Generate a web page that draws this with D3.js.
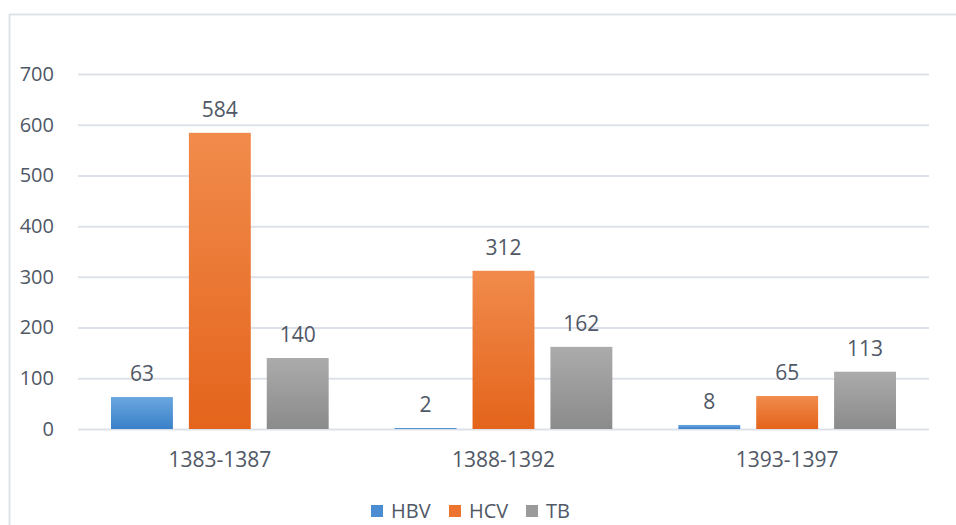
<!DOCTYPE html>
<html>
<head>
<meta charset="utf-8">
<script src="https://cdn.jsdelivr.net/npm/d3@7"></script>
<style>
  body { margin: 0; background: #fff; }
  svg text { font-family: "Open Sans", "Liberation Sans", sans-serif; fill: #505866; }
</style>
</head>
<body>
<svg id="chart" width="956" height="525"></svg>
<script>
const periods = ["1383-1387", "1388-1392", "1393-1397"];
const seriesNames = ["HBV", "HCV", "TB"];
const hbv = [63, 2, 8];
const hcv = [584, 312, 65];
const tb = [140, 162, 113];
const yTicks = [0, 100, 200, 300, 400, 500, 600, 700];

const values = [hbv, hcv, tb];
const rows = periods.map((p, i) => ({
  period: p,
  vals: seriesNames.map((s, j) => ({ key: s, value: values[j][i] }))
}));

const svg = d3.select("#chart");
const width = 956, height = 525;
const plotLeft = 78, plotRight = 929, plotTop = 74, plotBottom = 429;
const fontFam = "'Open Sans', 'Liberation Sans', sans-serif";

// frame (left and top edges only visible)
svg.append("line").attr("x1", 9.5).attr("x2", width).attr("y1", 14.5).attr("y2", 14.5)
  .attr("stroke", "#dfe3e8").attr("stroke-width", 2);
svg.append("line").attr("x1", 9.5).attr("x2", 9.5).attr("y1", 14).attr("y2", height)
  .attr("stroke", "#dfe3e8").attr("stroke-width", 2);

const x = d3.scaleBand().domain(periods).range([plotLeft, plotRight]).paddingInner(0).paddingOuter(0);
const xs = d3.scaleBand().domain(seriesNames).range([33, x.bandwidth() - 33]).paddingInner(0.205);
const y = d3.scaleLinear().domain([0, 700]).range([plotBottom, plotTop]);

const defs = svg.append("defs");
const grads = { HBV: ["#6aa7df", "#3a80c9"], HCV: ["#f18b4c", "#e4641b"], TB: ["#ababab", "#8b8b8b"] };
Object.entries(grads).forEach(([k, c]) => {
  const g = defs.append("linearGradient").attr("id", "g" + k).attr("x1", 0).attr("x2", 0).attr("y1", 0).attr("y2", 1);
  g.append("stop").attr("offset", "0%").attr("stop-color", c[0]);
  g.append("stop").attr("offset", "100%").attr("stop-color", c[1]);
});
const solid = { HBV: "#4a8dd3", HCV: "#ec742e", TB: "#9a9a9a" };

// gridlines + y axis
svg.append("g")
  .attr("transform", `translate(${plotLeft},0)`)
  .call(d3.axisLeft(y).tickValues(yTicks).tickSize(-(plotRight - plotLeft)).tickPadding(24))
  .call(g => g.select(".domain").remove())
  .call(g => g.selectAll("line").attr("stroke", "#dde2ea").attr("stroke-width", 2))
  .call(g => g.selectAll("text").attr("font-size", 20).attr("fill", "#505866").style("font-family", fontFam));

// x axis labels
svg.append("g")
  .attr("transform", `translate(0,${plotBottom})`)
  .call(d3.axisBottom(x).tickSize(0).tickPadding(23))
  .call(g => g.select(".domain").remove())
  .call(g => g.selectAll("text").attr("font-size", 21).attr("fill", "#505866").style("font-family", fontFam));

const groups = svg.append("g").selectAll("g").data(rows).join("g")
  .attr("transform", d => `translate(${x(d.period)},0)`);

groups.selectAll("rect").data(d => d.vals).join("rect")
  .attr("x", d => xs(d.key))
  .attr("width", xs.bandwidth())
  .attr("y", d => y(d.value))
  .attr("height", d => Math.max(y(0) - y(d.value), 0))
  .attr("fill", d => `url(#g${d.key})`);

groups.selectAll("text.val").data(d => d.vals).join("text")
  .attr("class", "val")
  .attr("x", d => xs(d.key) + xs.bandwidth() / 2)
  .attr("y", d => y(d.value) - 16)
  .attr("text-anchor", "middle")
  .attr("font-size", 21)
  .text(d => d.value);

// legend
const legendX = [371, 449, 526];
const legend = svg.append("g").selectAll("g").data(seriesNames).join("g")
  .attr("transform", (d, i) => `translate(${legendX[i]},505)`);
legend.append("rect").attr("width", 12).attr("height", 12).attr("fill", d => solid[d]);
legend.append("text").attr("x", 20).attr("y", 13).attr("font-size", 20).text(d => d);
</script>
</body>
</html>
